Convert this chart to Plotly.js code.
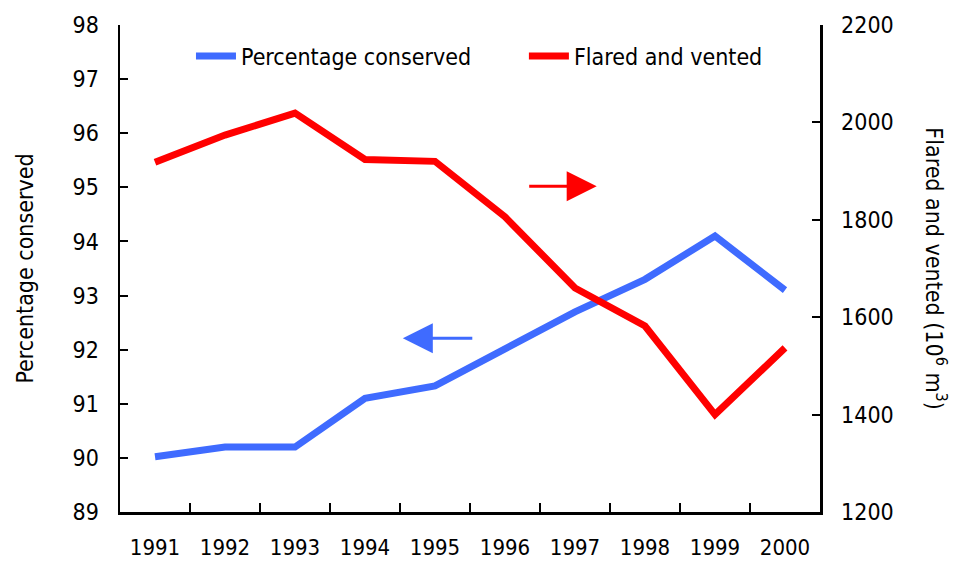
<!DOCTYPE html>
<html>
<head>
<meta charset="utf-8">
<script src="https://cdn.plot.ly/plotly-3.0.1.min.js"></script>
<style>html,body{margin:0;padding:0;background:#fff;}#chart{width:957px;height:561px;}</style>
</head>
<body>
<div id="chart"></div>
<script>
const years = ["1991","1992","1993","1994","1995","1996","1997","1998","1999","2000"];
const percentageConserved = [90.02, 90.2, 90.2, 91.1, 91.33, 92.0, 92.7, 93.3, 94.1, 93.1];
const flaredAndVented = [1918, 1974, 2019, 1924, 1920, 1806, 1660, 1582, 1400, 1537];
const leftTicks = [89, 90, 91, 92, 93, 94, 95, 96, 97, 98];
const rightTicks = [1200, 1400, 1600, 1800, 2000, 2200];

const FONT = "'DejaVu Sans Condensed', 'Liberation Sans Narrow', 'Arial Narrow', sans-serif";

const traces = [
  {
    x: years, y: percentageConserved, name: "Percentage conserved",
    type: "scatter", mode: "lines", yaxis: "y", legend: "legend",
    line: {color: "#3f6bff", width: 7}
  },
  {
    x: years, y: flaredAndVented, name: "Flared and vented",
    type: "scatter", mode: "lines", yaxis: "y2", legend: "legend2",
    line: {color: "#ff0000", width: 7}
  }
];

const legendStyle = (x) => ({
  orientation: "h", x: x, y: 0.936, xanchor: "left", yanchor: "middle",
  font: {family: FONT, size: 23, color: "#000"}, bgcolor: "rgba(0,0,0,0)",
  itemwidth: 40
});

const layout = {
  width: 957, height: 561,
  margin: {l: 120, r: 137, t: 25, b: 49},
  paper_bgcolor: "#ffffff", plot_bgcolor: "#ffffff",
  font: {family: FONT, size: 23, color: "#000"},
  showlegend: true,
  legend: legendStyle(0.1014),
  legend2: legendStyle(0.577),
  xaxis: {
    type: "category", range: [-0.5, 9.5], tickson: "boundaries",
    ticks: "inside", ticklen: 9, tickwidth: 2, tickcolor: "#000",
    showline: true, linecolor: "#000", linewidth: 2.5,
    showgrid: false, zeroline: false, ticklabelstandoff: 14,
    tickfont: {family: FONT, size: 22, color: "#000"}
  },
  yaxis: {
    range: [89, 98], tickvals: leftTicks, ticks: "inside", ticklen: 8, tickwidth: 2,
    tickcolor: "#000", showline: true, linecolor: "#000", linewidth: 2.5,
    showgrid: false, zeroline: false, ticklabelstandoff: 14,
    tickfont: {family: FONT, size: 23, color: "#000"},
    title: {text: "Percentage conserved", font: {family: FONT, size: 23, color: "#000"}, standoff: 33}
  },
  yaxis2: {
    range: [1200, 2200], tickvals: rightTicks, overlaying: "y", side: "right",
    ticks: "inside", ticklen: 8, tickwidth: 2, tickcolor: "#000",
    showline: true, linecolor: "#000", linewidth: 2.5,
    showgrid: false, zeroline: false, ticklabelstandoff: 14,
    tickfont: {family: FONT, size: 23, color: "#000"}
  },
  annotations: [
    {
      text: "Flared and vented (10<sup>6</sup> m<sup>3</sup>)", textangle: 90,
      xref: "paper", yref: "paper", x: 1.166, y: 0.5, xanchor: "center", yanchor: "middle",
      showarrow: false, font: {family: FONT, size: 23, color: "#000"}
    },
    {
      text: "", xref: "paper", yref: "paper", x: 0.681, y: 0.669,
      ax: -69, ay: 0, showarrow: true, arrowhead: 2, arrowsize: 2, arrowwidth: 3,
      arrowcolor: "#ff0000"
    },
    {
      text: "", xref: "paper", yref: "paper", x: 0.404, y: 0.357,
      ax: 71, ay: 0, showarrow: true, arrowhead: 2, arrowsize: 2, arrowwidth: 3,
      arrowcolor: "#3f6bff"
    }
  ]
};

Plotly.newPlot("chart", traces, layout, {displayModeBar: false, staticPlot: true});
</script>
</body>
</html>
